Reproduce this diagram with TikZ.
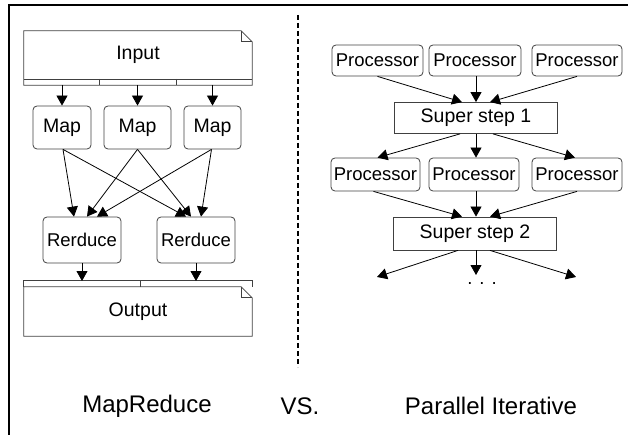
\documentclass[tikz,border=0pt]{standalone}
\usepackage{fontspec}
\setmainfont{Liberation Sans}
\usetikzlibrary{arrows.meta,positioning}

\tikzset{
  box/.style={draw=black!75, line width=0.8pt, rounded corners=4pt, inner sep=0pt, font=\fontsize{19.5}{21}\selectfont},
  small/.style={font=\fontsize{18.5}{20}\selectfont},
  stepbox/.style={draw=black!75, line width=0.8pt, inner sep=0pt, minimum width=163pt, minimum height=31pt, font=\fontsize{19.5}{21}\selectfont},
  doc/.style={inner sep=0pt, minimum width=228pt, font=\fontsize{19.5}{21}\selectfont},
  docline/.style={draw=black!75, line width=0.8pt},
  arr/.style={-{Triangle[length=10pt,width=11pt]}, line width=0.8pt},
  title/.style={font=\fontsize{24}{26}\selectfont}
}

\begin{document}
\begin{tikzpicture}[x=1pt,y=-1pt]
\useasboundingbox (0,0) rectangle (628,435);
\draw[line width=2.5pt] (9,435) -- (9,5) -- (628,5);
\draw[line width=2pt, dash pattern=on 5pt off 3pt] (298,15) -- (298,367);

\node[doc, minimum height=48pt] (input) at (138,55) {Input};
\draw[docline] (input.south west) -- (input.north west) -- ([xshift=-11pt]input.north east) -- ([yshift=-11pt]input.north east) -- ([yshift=-6pt]input.south east) -- ([yshift=-6pt]input.south west) -- cycle;
\draw[docline] ([xshift=-11pt]input.north east) |- ([yshift=-11pt]input.north east);
\draw[docline] (input.south west) -- (input.south east);
\draw[docline] (99,79) -- (99,85);
\draw[docline] (176,79) -- (176,85);
\coordinate (inbot) at (138,85);

\node[box, minimum width=58pt, minimum height=43pt] (map1) at (62,127.5) {Map};
\node[box, minimum width=67pt, minimum height=43pt] (map2) at (137.5,127.5) {\raisebox{-3pt}{Map}};
\node[box, minimum width=57pt, minimum height=43pt] (map3) at (212.5,127.5) {\raisebox{1pt}{Map}};

\node[box, small, minimum width=78pt, minimum height=46pt] (red1) at (82,240) {Rerduce};
\node[box, small, minimum width=78pt, minimum height=46pt] (red2) at (196,240) {Rerduce};

\node[doc, minimum height=49pt] (output) at (138,311.5) {Output};
\draw[docline] (output.south west) -- (output.north west) -- ([xshift=-11pt]output.north east) -- ([yshift=-11pt]output.north east) -- (output.south east) -- cycle;
\draw[docline] ([xshift=-11pt]output.north east) |- ([yshift=-11pt]output.north east);
\draw[docline] (output.north west) -- ([yshift=6pt]output.north west) -- ([yshift=6pt]output.north east) -- (output.north east);
\draw[docline] (140,281) -- (140,287);
\coordinate (outtop) at (138,281);

\draw[arr] (inbot -| map1.north) -- (map1.north);
\draw[arr] (inbot -| map2.north) -- (map2.north);
\draw[arr] (inbot -| map3.north) -- (map3.north);

\draw[arr] ([xshift=1pt]map1.south) -- ([xshift=-8pt]red1.north);
\draw[arr] ([xshift=1pt]map1.south) -- ([xshift=-10pt]red2.north);
\draw[arr] (map2.south) -- ([xshift=5pt]red1.north);
\draw[arr] (map2.south) -- ([xshift=-5pt]red2.north);
\draw[arr] ([xshift=-1pt]map3.south) -- ([xshift=15pt]red1.north);
\draw[arr] ([xshift=-1pt]map3.south) -- ([xshift=5pt]red2.north);

\draw[arr] (red1.south) -- (red1.south |- outtop);
\draw[arr] (red2.south) -- (red2.south |- outtop);

\node[box, small, minimum width=91pt, minimum height=31pt] (proc1) at (377.5,60.5) {Processor};
\node[box, small, minimum width=92pt, minimum height=31pt] (proc2) at (475,60.5) {Processor};
\node[box, small, minimum width=90pt, minimum height=31pt] (proc3) at (577,60.5) {Processor};
\node[stepbox] (step1) at (476,118) {Super step 1};
\node[box, small, minimum width=89pt, minimum height=33pt] (proc4) at (375.5,174.5) {Processor};
\node[box, small, minimum width=90pt, minimum height=33pt] (proc5) at (474,174.5) {Processor};
\node[box, small, minimum width=90pt, minimum height=33pt] (proc6) at (577,174.5) {Processor};
\node[stepbox, minimum height=33pt] (step2) at (475,233.5) {Super step 2};

\draw[arr] (proc1.south) -- ([xshift=-14pt]step1.north);
\draw[arr] (proc2.south -| step1.north) -- (step1.north);
\draw[arr] (proc3.south) -- ([xshift=14pt]step1.north);

\draw[arr] ([xshift=-16pt]step1.south) -- ([xshift=2pt]proc4.north);
\draw[arr] (step1.south) -- (step1.south |- proc5.north);
\draw[arr] ([xshift=17pt]step1.south) -- ([xshift=-2pt]proc6.north);

\draw[arr] ([xshift=-2pt]proc4.south) -- ([xshift=-13pt]step2.north);
\draw[arr] (proc5.south -| step1.south) -- (step1.south |- step2.north);
\draw[arr] (proc6.south) -- ([xshift=15pt]step2.north);

\coordinate (out1) at (377,277);
\coordinate (out2) at (476,275);
\coordinate (out3) at (576,277);
\draw[arr] ([xshift=-17pt]step2.south) -- (out1);
\draw[arr] (step1.south |- step2.south) -- (out2);
\draw[arr] ([xshift=15pt]step2.south) -- (out3);
\node[small] (dots) at (482,284) {.\hspace{7pt}.\hspace{7pt}.};

\node[title] (mr) at (147,406) {MapReduce};
\node[title] (vs) at (300,406) {VS.};
\node[title] (pi) at (491,406) {Parallel Iterative};
\end{tikzpicture}
\end{document}
